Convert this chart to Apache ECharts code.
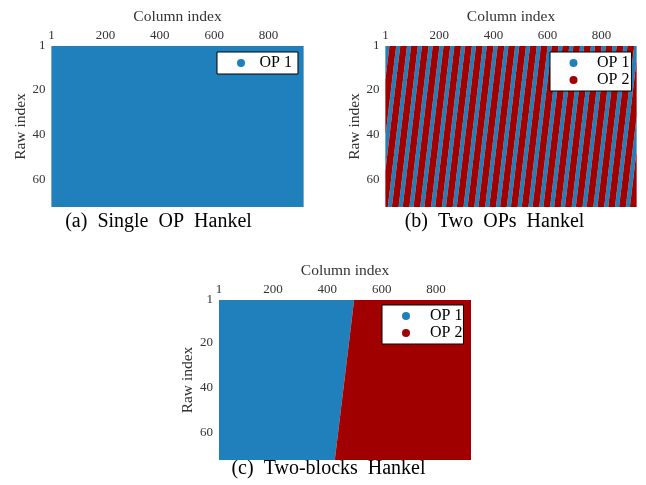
<!DOCTYPE html>
<html>
<head>
<meta charset="utf-8">
<script src="https://cdn.jsdelivr.net/npm/echarts@6/dist/echarts.min.js"></script>
<style>
  html, body { margin: 0; padding: 0; background: #fff; }
  #chart { width: 646px; height: 485px; }
</style>
</head>
<body>
<div id="chart"></div>
<script>
// Hankel matrices: ROWS x COLS, entry (i, j) = label of sample i + j - 1
const ROWS = 72;
const COLS = 929;
const xTicks = [1, 200, 400, 600, 800];
const yTicks = [1, 20, 40, 60];
const opNames = ['OP 1', 'OP 2'];
const opColors = ['#1f80bb', '#a00000'];

// Label sequences stored as runs: operating point index and run length (samples)
const runOpsA = [0];
const runLensA = [1000];

const runOpsB = [
  0, 1, 0, 1, 0, 1, 0, 1, 0, 1, 0, 1, 0, 1, 0, 1, 0, 1, 0, 1, 0, 1, 0, 1, 0,
  1, 0, 1, 0, 1, 0, 1, 0, 1, 0, 1, 0, 1, 0, 1, 0, 1, 0, 1, 0, 1, 0, 1, 0, 1
];
const runLensB = [
  15, 25, 15, 25, 15, 25, 15, 25, 15, 25, 15, 25, 15, 25, 15, 25, 15, 25, 15, 25,
  15, 25, 15, 25, 15, 25, 15, 25, 15, 25, 15, 25, 15, 25, 15, 25, 15, 25, 15, 25,
  15, 25, 15, 25, 15, 25, 15, 25, 15, 25
];

const runOpsC = [0, 1];
const runLensC = [498, 502];

const captions = ['(a)  Single  OP  Hankel', '(b)  Two  OPs  Hankel', '(c)  Two-blocks  Hankel'];

const FONT = "'Liberation Serif', 'Times New Roman', serif";

// Turn a run list into [firstSample, lastSample] items for one operating point
function runItems(ops, lens, op) {
  const items = [];
  let k = 1;
  for (let r = 0; r < ops.length; r++) {
    if (ops[r] === op) items.push([k, k + lens[r] - 1]);
    k += lens[r];
  }
  return items;
}

// A run of samples [a, b] covers the anti-diagonal band a <= i + j - 1 <= b;
// draw it as a staircase polygon of whole cells
function renderRun(params, api) {
  const a = api.value(0), b = api.value(1);
  const left = [], right = [];
  for (let i = 1; i <= ROWS; i++) {
    const j0 = Math.max(1, a - i + 1);
    const j1 = Math.min(COLS, b - i + 1);
    if (j0 > j1) continue;
    left.push(api.coord([j0 - 0.5, i - 0.5]), api.coord([j0 - 0.5, i + 0.5]));
    right.push(api.coord([j1 + 0.5, i - 0.5]), api.coord([j1 + 0.5, i + 0.5]));
  }
  if (!left.length) return null;
  return {
    type: 'polygon',
    shape: { points: left.concat(right.reverse()) },
    style: { fill: api.visual('color') }
  };
}

const panels = [
  { ops: runOpsA, lens: runLensA, grid: { left: 51.5, top: 46, width: 252, height: 161 } },
  { ops: runOpsB, lens: runLensB, grid: { left: 385.5, top: 46, width: 251, height: 161 } },
  { ops: runOpsC, lens: runLensC, grid: { left: 219, top: 300, width: 252, height: 160 } }
];

// Legend boxes: position, inner padding and the gap between marker and label
const legendBoxes = [
  { left: 217, top: 52, gap: 9.5, padding: [3, 6, 3, 20] },
  { left: 550, top: 52, gap: 14.5, padding: [3, 2, 3, 19.5] },
  { left: 382, top: 305, gap: 15, padding: [3, 1, 3, 20] }
];

const captionPos = [[158.5, 222], [494.5, 222], [328.5, 469]];

const grid = [], xAxis = [], yAxis = [], series = [], legend = [], graphics = [];

panels.forEach((p, g) => {
  grid.push(p.grid);
  xAxis.push({
    gridIndex: g, type: 'value', position: 'top', min: 1, max: COLS,
    name: 'Column index', nameLocation: 'middle', nameGap: 21,
    nameTextStyle: { fontFamily: FONT, fontSize: 15.5, color: '#333' },
    axisLine: { show: false }, axisTick: { show: false }, splitLine: { show: false },
    axisLabel: { customValues: xTicks, margin: 4, fontFamily: FONT, fontSize: 13, color: '#333' }
  });
  yAxis.push({
    gridIndex: g, type: 'value', inverse: true, min: 1, max: ROWS,
    name: 'Raw index', nameLocation: 'middle', nameGap: 23, nameRotate: 90,
    nameTextStyle: { fontFamily: FONT, fontSize: 15.5, color: '#333' },
    axisLine: { show: false }, axisTick: { show: false }, splitLine: { show: false },
    axisLabel: { customValues: yTicks, margin: 6, fontFamily: FONT, fontSize: 13, color: '#333' }
  });
  const present = [];
  [0, 1].forEach(op => {
    if (p.ops.indexOf(op) < 0) return;
    present.push(opNames[op]);
    series.push({
      type: 'custom', name: opNames[op], xAxisIndex: g, yAxisIndex: g,
      clip: true, silent: true,
      itemStyle: { color: opColors[op] },
      renderItem: renderRun,
      data: runItems(p.ops, p.lens, op)
    });
  });
  const lb = legendBoxes[g];
  legend.push({
    data: present, orient: 'vertical', left: lb.left, top: lb.top,
    icon: 'circle', itemWidth: 8, itemHeight: 8, itemGap: 1,
    padding: lb.padding, backgroundColor: '#fff', borderColor: '#000', borderWidth: 1,
    borderRadius: 0, selectedMode: false,
    formatter: name => '{g|}' + name,
    textStyle: {
      fontFamily: FONT, fontSize: 16, lineHeight: 16, color: '#000',
      rich: { g: { width: lb.gap } }
    }
  });
  graphics.push({
    type: 'text', x: captionPos[g][0], y: captionPos[g][1],
    style: {
      text: captions[g], font: '20px ' + FONT, fill: '#000',
      align: 'center', verticalAlign: 'middle'
    }
  });
});

const chart = echarts.init(document.getElementById('chart'), null, { renderer: 'canvas' });
chart.setOption({
  animation: false,
  backgroundColor: '#fff',
  grid, xAxis, yAxis, series, legend,
  graphic: graphics
});
</script>
</body>
</html>
